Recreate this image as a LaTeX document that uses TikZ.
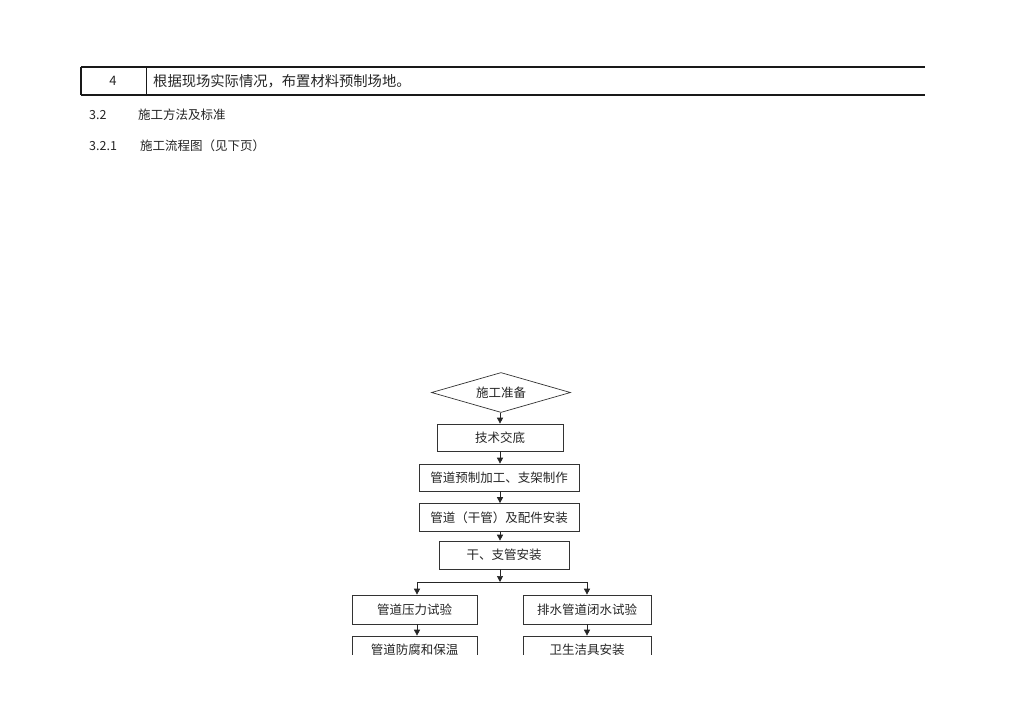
\documentclass[tikz,border=0pt]{standalone}
\usepackage{fontspec}
\newfontfamily\cjk{Noto Sans CJK SC}
\usetikzlibrary{shapes.geometric,arrows.meta}
\tikzset{
  txt/.style={font=\cjk\fontsize{12.5}{14}\selectfont, text=black!85, inner sep=0pt},
  stepbox/.style={draw=black!80, line width=0.7pt, font=\cjk\fontsize{12.5}{14}\selectfont,
    text=black!85, inner sep=0pt},
  startdia/.style={draw=black!80, line width=0.7pt, diamond, aspect=3.47, inner sep=0pt,
    minimum width=139pt, minimum height=40pt, font=\cjk\fontsize{12.5}{14}\selectfont, text=black!85},
  arr/.style={draw=black!85, line width=0.7pt, -{Triangle[width=6pt,length=6pt]}},
  rule/.style={draw=black!90}
}

\begin{document}
\begin{tikzpicture}[x=1pt, y=-1pt, line cap=butt, line join=miter]
  \useasboundingbox[fill=white] (0,0) rectangle (1024,724);

  % Table row
  \draw[rule, line width=1.8pt] (81,67) -- (925,67);
  \draw[rule, line width=1.8pt] (81,95) -- (925,95);
  \draw[rule, line width=1.2pt] (81,67) -- (81,95);
  \draw[rule, line width=0.9pt] (146,67) -- (146,95);
  \node[txt, font=\cjk\fontsize{13}{14}\selectfont] (num) at (113,81) {4};
  \node[txt, anchor=west, font=\cjk\fontsize{14.3}{16}\selectfont] (row) at (153,81)
    {根据现场实际情况，布置材料预制场地。};

  % Headings
  \node[txt, anchor=west] (secnum) at (89,115) {3.2};
  \node[txt, anchor=west] (sec) at (138,115) {施工方法及标准};
  \node[txt, anchor=west] (subnum) at (89,146) {3.2.1};
  \node[txt, anchor=west] (sub) at (140,146) {施工流程图（见下页）};

  % Flow chart (cut at the page edge)
  \begin{scope}
    \clip (0,0) rectangle (1024,654);

    \node[startdia] (zhunbei) at (501,392.5) {施工准备};
    \node[stepbox, minimum width=126pt, minimum height=27pt] (jiaodi) at (500,437.5) {技术交底};
    \node[stepbox, minimum width=160pt, minimum height=27pt] (yuzhi) at (499,477.5) {管道预制加工、支架制作};
    \node[stepbox, minimum width=160pt, minimum height=28pt] (peijian) at (499,517.5) {管道（干管）及配件安装};
    \node[stepbox, minimum width=130pt, minimum height=28pt] (gan) at (504,555) {干、支管安装};
    \node[stepbox, minimum width=125pt, minimum height=29pt] (yali) at (414.5,609.5) {管道压力试验};
    \node[stepbox, minimum width=128pt, minimum height=29pt] (bishui) at (587,609.5) {排水管道闭水试验};
    \node[stepbox, minimum width=125pt, minimum height=28pt] (fangfu) at (414.5,650) {管道防腐和保温};
    \node[stepbox, minimum width=128pt, minimum height=28pt] (jieju) at (587,650) {卫生洁具安装};

    \coordinate (split) at (500,582);
    \coordinate (splitL) at (417,582);
    \coordinate (splitR) at (587,582);

    % connectors
    \draw[arr] (zhunbei.south -| split) -- (split |- jiaodi.north);
    \draw[arr] (jiaodi.south -| split) -- (split |- yuzhi.north);
    \draw[arr] (yuzhi.south -| split) -- (split |- peijian.north);
    \draw[arr] (peijian.south -| split) -- (split |- gan.north);
    \draw[arr] (gan.south -| split) -- (split);
    \draw[draw=black!85, line width=0.7pt] (splitL) -- (splitR);
    \draw[arr] (splitL) -- (splitL |- yali.north);
    \draw[arr] (splitR) -- (splitR |- bishui.north);
    \draw[arr] (yali.south -| splitL) -- (splitL |- fangfu.north);
    \draw[arr] (bishui.south -| splitR) -- (splitR |- jieju.north);
  \end{scope}
\end{tikzpicture}
\end{document}
